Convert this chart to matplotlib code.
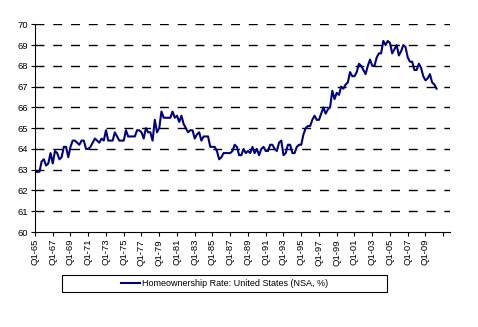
import matplotlib
matplotlib.use('Agg')
import matplotlib.pyplot as plt
from matplotlib.patches import Rectangle

plt.rcParams['font.family'] = ['Liberation Sans', 'DejaVu Sans']

# US homeownership rate, quarterly, Q1-1965 .. Q2-2010 (NSA, %)
rate = [
    62.9, 62.9, 62.9, 63.4,  # 1965
    63.5, 63.2, 63.3, 63.8,  # 1966
    63.3, 63.9, 63.8, 63.5,  # 1967
    63.6, 64.1, 64.1, 63.6,  # 1968
    64.1, 64.4, 64.4, 64.3,  # 1969
    64.2, 64.4, 64.4, 64.0,  # 1970
    64.0, 64.1, 64.3, 64.5,  # 1971
    64.4, 64.3, 64.5, 64.4,  # 1972
    64.9, 64.4, 64.4, 64.4,  # 1973
    64.8, 64.6, 64.4, 64.4,  # 1974
    64.4, 64.9, 64.6, 64.6,  # 1975
    64.6, 64.6, 64.9, 64.9,  # 1976
    64.8, 64.5, 65.0, 64.8,  # 1977
    64.8, 64.4, 65.4, 64.8,  # 1978
    65.0, 65.8, 65.5, 65.5,  # 1979
    65.5, 65.5, 65.8, 65.5,  # 1980
    65.6, 65.3, 65.6, 65.2,  # 1981
    65.0, 64.8, 64.9, 64.9,  # 1982
    64.5, 64.7, 64.8, 64.4,  # 1983
    64.6, 64.6, 64.6, 64.1,  # 1984
    64.1, 64.1, 63.9, 63.5,  # 1985
    63.6, 63.8, 63.8, 63.8,  # 1986
    63.8, 63.9, 64.2, 64.1,  # 1987
    63.7, 63.7, 64.0, 63.8,  # 1988
    63.9, 63.8, 64.1, 63.8,  # 1989
    64.0, 63.7, 64.0, 64.1,  # 1990
    63.9, 63.9, 64.2, 64.2,  # 1991
    64.0, 63.9, 64.3, 64.4,  # 1992
    63.7, 63.8, 64.2, 64.2,  # 1993
    63.8, 63.8, 64.1, 64.2,  # 1994
    64.2, 64.7, 65.0, 65.1,  # 1995
    65.1, 65.4, 65.6, 65.4,  # 1996
    65.4, 65.7, 66.0, 65.7,  # 1997
    65.9, 66.0, 66.8, 66.4,  # 1998
    66.7, 66.6, 67.0, 66.9,  # 1999
    67.1, 67.2, 67.7, 67.5,  # 2000
    67.5, 67.7, 68.1, 68.0,  # 2001
    67.8, 67.6, 68.0, 68.3,  # 2002
    68.0, 68.0, 68.4, 68.6,  # 2003
    68.6, 69.2, 69.0, 69.2,  # 2004
    69.1, 68.6, 68.8, 69.0,  # 2005
    68.5, 68.7, 69.0, 68.9,  # 2006
    68.4, 68.2, 68.2, 67.8,  # 2007
    67.8, 68.1, 67.9, 67.5,  # 2008
    67.3, 67.4, 67.6, 67.2,  # 2009
    67.1, 66.9,              # 2010
]
tick_labels = ['Q1-%02d' % (y % 100) for y in range(1965, 2011, 2)] + ['']

fig = plt.figure(figsize=(4.78, 3.27), dpi=100)
ax = fig.add_axes([0.0732, 0.2905, 0.8680, 0.6352])

q = list(range(len(rate)))
line, = ax.plot(q, rate, color='#000080', lw=1.5,
                label='Homeownership Rate: United States (NSA, %)')

ax.set_ylim(60, 70)
ax.set_xlim(0, 187)
ax.set_yticks(range(60, 71))
ax.set_xticks(range(0, 8 * len(tick_labels), 8))
ax.set_xticklabels(tick_labels, rotation=90, fontsize=6.8)
ax.tick_params(axis='y', labelsize=6.8, length=3, width=0.8, pad=2)
ax.tick_params(axis='x', length=3, width=0.8, pad=2)

for v in range(61, 71):
    ax.axhline(v, color='black', lw=1.0, dashes=(6.4, 6.4), zorder=0)

for s in ['top', 'right']:
    ax.spines[s].set_visible(False)
ax.spines['left'].set_linewidth(0.8)
ax.spines['bottom'].set_linewidth(0.8)

fig.patches.append(Rectangle((62 / 478, 1 - 292 / 327), 325 / 478, 17 / 327,
                             transform=fig.transFigure, fill=False,
                             edgecolor='black', lw=0.8))
fig.legend(handles=[line], loc='center', bbox_to_anchor=(0.4697, 0.133),
           frameon=False, fontsize=6.5, handlelength=2.2, handletextpad=0.2)

fig.savefig('out.png', dpi=100)
